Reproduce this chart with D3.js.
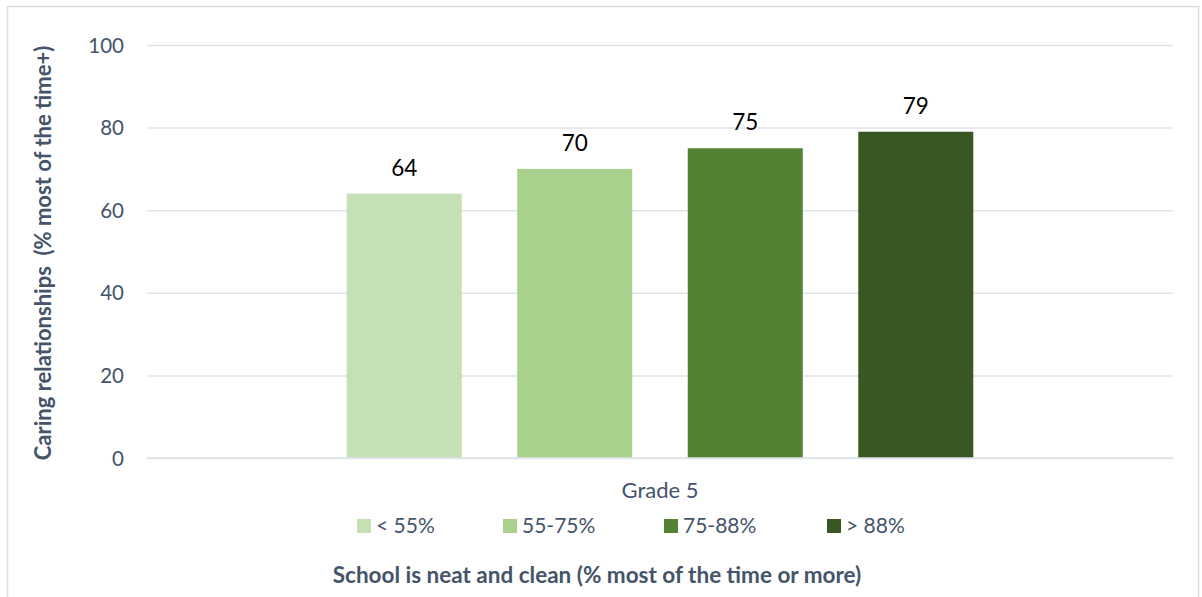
<!DOCTYPE html>
<html><head><meta charset="utf-8">
<script src="https://cdn.jsdelivr.net/npm/d3@7"></script>
<style>body{margin:0;background:#fff}svg{display:block}text{font-family:Lato,"Open Sans",sans-serif}</style>
</head><body><svg id="c" width="1202" height="597"></svg>
<script>
const categories = ["Grade 5"];
const seriesNames = ["< 55%", "55-75%", "75-88%", "> 88%"];
const seriesValues = [64, 70, 75, 79];
const seriesColors = ["#c5e0b4", "#a9d18e", "#548235", "#385723"];
const yTicks = [0, 20, 40, 60, 80, 100];
const yTitle = "Caring relationships  (% most of the time+)";
const xTitle = "School is neat and clean (% most of the time or more)";

const svg = d3.select("#c");
const textCol = "#44546a";
svg.append("rect").attr("x",7.5).attr("y",6.5).attr("width",1191).attr("height",600)
  .attr("fill","#fff").attr("stroke","#d9dde3").attr("stroke-width",1.5);

const plot = {l:147, r:1173, t:45, b:458};
const y = d3.scaleLinear().domain([0,100]).range([plot.b, plot.t]);
const x0 = d3.scaleBand().domain(categories).range([plot.l, plot.r]);
const bw = x0.bandwidth();
const x1 = d3.scaleBand().domain(seriesNames).range([bw*0.1676, bw*0.8324]).paddingInner(0.3255).paddingOuter(0.16275);

// gridlines
const yAxis = d3.axisLeft(y).tickValues(yTicks).tickSize(-(plot.r-plot.l)).tickPadding(23);
const gy = svg.append("g").attr("transform",`translate(${plot.l},0)`).call(yAxis);
gy.select(".domain").remove();
gy.selectAll(".tick line").attr("stroke","#dfe3e8").attr("stroke-width",1.5);
gy.selectAll(".tick text").attr("fill",textCol).attr("font-size",20.5).attr("dy","0.35em");

const g = svg.append("g");
categories.forEach(cat => {
  const gx = g.append("g").attr("transform",`translate(${x0(cat)},0)`);
  gx.selectAll("rect").data(seriesNames).join("rect")
    .attr("x", d => x1(d)).attr("width", x1.bandwidth())
    .attr("y", (d,i) => y(seriesValues[i])).attr("height", (d,i) => y(0)-y(seriesValues[i]))
    .attr("fill", (d,i) => seriesColors[i]);
  gx.selectAll("text.v").data(seriesNames).join("text").attr("class","v")
    .attr("x", d => x1(d)+x1.bandwidth()/2).attr("y", (d,i) => y(seriesValues[i]) - 26)
    .attr("text-anchor","middle").attr("dy","0.35em").attr("font-size",22.5).attr("fill","#000")
    .text((d,i) => seriesValues[i]);
  svg.append("text").attr("x", x0(cat)+bw/2).attr("y", 490).attr("dy","0.35em")
    .attr("text-anchor","middle").attr("font-size",22).attr("fill",textCol).text(cat);
});

// baseline
svg.append("line").attr("x1",plot.l).attr("x2",plot.r).attr("y1",y(0)).attr("y2",y(0))
  .attr("stroke","#dfe3e8").attr("stroke-width",1.5);

// legend
const legX = [357, 503, 664, 827];
const lg = svg.append("g");
seriesNames.forEach((s,i) => {
  lg.append("rect").attr("x",legX[i]).attr("y",519).attr("width",14).attr("height",14).attr("fill",seriesColors[i]);
  lg.append("text").attr("x",legX[i]+19).attr("y",526).attr("dy","0.35em").attr("font-size",21)
    .attr("fill",textCol).text(s);
});

// titles
svg.append("text").attr("x",597).attr("y",575).attr("dy","0.35em").attr("text-anchor","middle")
  .attr("font-size",22.5).attr("font-weight","bold").attr("fill",textCol).text(xTitle);
svg.append("text").attr("transform","translate(43,253) rotate(-90)").attr("dy","0.35em")
  .attr("text-anchor","middle").attr("font-size",22).attr("font-weight","bold").attr("fill",textCol)
  .attr("xml:space","preserve").style("white-space","pre").text(yTitle);
</script></body></html>
